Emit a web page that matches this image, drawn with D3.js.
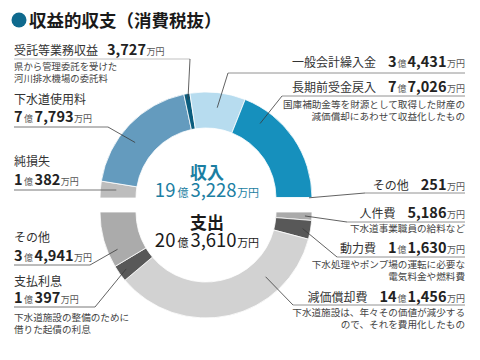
<!DOCTYPE html>
<html><head><meta charset="utf-8">
<script src="https://cdn.jsdelivr.net/npm/d3@7"></script>
<style>
body{margin:0;background:#fff;}
svg text{font-family:"Noto Sans CJK JP","Noto Sans",sans-serif;}
</style></head>
<body><svg id="c" width="480" height="360"></svg>
<script>
// ---- data (単位: 万円) ----
const incomeLabels = ["純損失","下水道使用料","受託等業務収益","一般会計繰入金","長期前受金戻入","その他"];
const incomeValues = [10382, 77793, 3727, 34431, 77026, 251];
const expenseLabels = ["人件費","動力費","減価償却費","支払利息","その他"];
const expenseValues = [5186, 11630, 141456, 10397, 34941];
const incomeDescs = ["", "", "県から管理委託を受けた|河川排水機場の委託料", "", "国庫補助金等を財源として取得した財産の|減価償却にあわせて収益化したもの", ""];
const expenseDescs = ["下水道事業職員の給料など", "下水処理やポンプ場の運転に必要な|電気料金や燃料費", "下水道施設は、年々その価値が減少する|ので、それを費用化したもの", "下水道施設の整備のために|借りた起債の利息", ""];
const titleText = "収益的収支（消費税抜）";
const incomeTitle = "収入", expenseTitle = "支出";

// ---- styles / layout ----
const incomeColors = ["#bdbdbd","#649bbe","#0b5d7e","#b7dcef","#1690bd","#8ec9e0"];
const expenseColors = ["#aaaaaa","#585858","#d2d2d2","#585858","#ababab"];
const cx = 206, cyTop = 198, cyBot = 212, rOut = 106, rIn = 70;

const svg = d3.select("#c");

// title
svg.append("circle").attr("cx",19).attr("cy",20).attr("r",7.5).attr("fill","#0f6a8e");
svg.append("text").attr("x",29).attr("y",27).attr("font-size",17.5).attr("font-weight",700)
  .attr("fill","#1a1a1a").text(titleText);

const total = d3.sum(expenseValues);
const angleScale = d3.scaleLinear().domain([0,total]);
function buildArcs(values, a0, a1){
  angleScale.range([a0,a1]);
  let cum = 0;
  return values.map((v,i)=>{const s=cum; cum+=v; return {i, v, startAngle:angleScale(s), endAngle:angleScale(cum)};});
}
const incArcs = buildArcs(incomeValues, -Math.PI/2, Math.PI/2);
const expArcs = buildArcs(expenseValues, Math.PI/2, 3*Math.PI/2);
const arc = d3.arc().innerRadius(rIn).outerRadius(rOut);

const gTop = svg.append("g").attr("transform",`translate(${cx},${cyTop})`);
gTop.selectAll("path").data(incArcs).join("path").attr("d",arc)
  .attr("fill",d=>incomeColors[d.i]).attr("stroke","#fff").attr("stroke-width",0.8);
const gBot = svg.append("g").attr("transform",`translate(${cx},${cyBot})`);
gBot.selectAll("path").data(expArcs).join("path").attr("d",arc)
  .attr("fill",d=>expenseColors[d.i]).attr("stroke","#fff").attr("stroke-width",0.8);

// number formatting
const fmt = d3.format(",");
function parts(v){
  const oku = Math.floor(v/10000), man = v%10000, p=[];
  if(oku>0){p.push({t:String(oku),u:false});p.push({t:"億",u:true});}
  p.push({t:fmt(man),u:false});p.push({t:"万円",u:true});
  return p;
}
function addNum(textSel, v, numSize, unitSize, numColor, unitColor, gap, weight){
  parts(v).forEach((p,k)=>{
    textSel.append("tspan").attr("font-size",p.u?unitSize:numSize)
      .attr("font-weight",p.u?400:weight).attr("fill",p.u?unitColor:numColor)
      .attr("dx", k===0?0:(p.t==="万円"?0.5:gap)).text(p.t);
  });
}
function target(a, cy, t, r){
  const ang = a.startAngle + t*(a.endAngle-a.startAngle);
  return [cx + r*Math.sin(ang), cy - r*Math.cos(ang)];
}
const lineColor = "#3a3a3a";
const txtColor = "#333";

// label layouts: side, name/num baselines, underline, target
const incLayout = [
  {side:"L", nameY:166, numY:185, ulY:190, ulX0:14, ulX1:null, t:0.5, r:90},
  {side:"L", nameY:104, numY:122, ulY:127, ulX0:14, ulX1:108, t:0.42, r:90},
  {side:"L1", nameY:55, numX:107, ulY:59, ulX0:14, ulX1:190, t:0.5, r:100, descY:[70,82]},
  {side:"R", nameY:67, ulY:73, ulX0:228, t:0.52, r:91},
  {side:"R", nameY:92, ulY:96, ulX0:282, t:0.21, r:92, descY:[108,120]},
  {side:"R", nameY:190, ulY:193, ulX0:365, t:0.5, r:103},
];
const expLayout = [
  {side:"R", nameY:218, ulY:222, ulX0:347, t:0.5, r:99, descY:[232]},
  {side:"R", nameY:253, ulY:257, ulX0:337, t:0.5, r:98, descY:[268,280]},
  {side:"R", nameY:302, ulY:305, ulX0:293, t:0.26, r:88, descY:[316,328]},
  {side:"L", nameY:286, numY:303, ulY:307, ulX0:14, ulX1:95, t:0.5, r:98, descY:[321,333]},
  {side:"L", nameY:242, numY:261, ulY:265, ulX0:14, ulX1:90, t:0.26, r:96},
];

const labG = svg.append("g");
function drawLabel(name, value, desc, lay, a, cy){
  const tp = target(a, cy, lay.t, lay.r);
  const xR = 465;
  if(lay.side==="R"){
    const t = labG.append("text").attr("x",xR).attr("y",lay.nameY).attr("text-anchor","end");
    t.append("tspan").attr("font-size",12).attr("fill",txtColor).text(name);
    t.append("tspan").attr("font-size",12).text("\u3000");
    addNum(t, value, 14.5, 9, "#222", "#555", 1, 600);
    labG.append("line").attr("x1",lay.ulX0).attr("x2",xR).attr("y1",lay.ulY).attr("y2",lay.ulY)
      .attr("stroke","#777").attr("stroke-width",0.8);
    labG.append("line").attr("x1",lay.ulX0).attr("y1",lay.ulY).attr("x2",tp[0]).attr("y2",tp[1])
      .attr("stroke",lineColor).attr("stroke-width",0.8);
    if(desc){
      desc.split("|").forEach((s,k)=>labG.append("text").attr("x",xR).attr("y",lay.descY[k])
        .attr("text-anchor","end").attr("font-size",9.6).attr("fill","#444").text(s));
    }
  } else if(lay.side==="L1"){
    labG.append("text").attr("x",14).attr("y",lay.nameY).attr("font-size",12).attr("fill",txtColor).text(name);
    const t = labG.append("text").attr("x",lay.numX).attr("y",lay.nameY);
    addNum(t, value, 14.5, 9, "#222", "#555", 1, 600);
    labG.append("line").attr("x1",lay.ulX0).attr("x2",lay.ulX1).attr("y1",lay.ulY).attr("y2",lay.ulY)
      .attr("stroke","#999").attr("stroke-width",0.6);
    labG.append("line").attr("x1",lay.ulX1).attr("y1",lay.ulY).attr("x2",tp[0]).attr("y2",tp[1])
      .attr("stroke",lineColor).attr("stroke-width",0.8);
    desc.split("|").forEach((s,k)=>labG.append("text").attr("x",14).attr("y",lay.descY[k])
      .attr("font-size",9.4).attr("fill","#444").text(s));
  } else {
    labG.append("text").attr("x",14).attr("y",lay.nameY).attr("font-size",12).attr("fill",txtColor).text(name);
    const t = labG.append("text").attr("x",14).attr("y",lay.numY);
    addNum(t, value, 14.5, 9, "#222", "#555", 1.5, 600);
    const x1 = lay.ulX1===null ? tp[0] : lay.ulX1;
    labG.append("line").attr("x1",lay.ulX0).attr("x2",x1).attr("y1",lay.ulY).attr("y2",lay.ulY)
      .attr("stroke","#555").attr("stroke-width",0.8);
    if(lay.ulX1!==null){
      labG.append("line").attr("x1",x1).attr("y1",lay.ulY).attr("x2",tp[0]).attr("y2",tp[1])
        .attr("stroke",lineColor).attr("stroke-width",0.8);
    }
    if(desc){
      desc.split("|").forEach((s,k)=>labG.append("text").attr("x",14).attr("y",lay.descY[k])
        .attr("font-size",9.6).attr("fill","#444").text(s));
    }
  }
}
incomeLabels.forEach((n,i)=>drawLabel(n, incomeValues[i], incomeDescs[i], incLayout[i], incArcs[i], cyTop));
expenseLabels.forEach((n,i)=>drawLabel(n, expenseValues[i], expenseDescs[i], expLayout[i], expArcs[i], cyBot));

// center totals
const incomeTotal = d3.sum(incomeValues.slice(1));
const expenseTotal = d3.sum(expenseValues);
const teal = "#1b7ea2";
svg.append("text").attr("x",cx+1).attr("y",179).attr("text-anchor","middle")
  .attr("font-size",17).attr("font-weight",700).attr("fill",teal).text(incomeTitle);
const it = svg.append("text").attr("x",cx+1).attr("y",197).attr("text-anchor","middle");
addNum(it, incomeTotal, 18.5, 11, teal, teal, 2, 400);
svg.append("text").attr("x",cx+1).attr("y",229).attr("text-anchor","middle")
  .attr("font-size",17).attr("font-weight",700).attr("fill","#1a1a1a").text(expenseTitle);
const et = svg.append("text").attr("x",cx+1).attr("y",247).attr("text-anchor","middle");
addNum(et, expenseTotal, 18.5, 11, "#1a1a1a", "#1a1a1a", 2, 400);
</script></body></html>
